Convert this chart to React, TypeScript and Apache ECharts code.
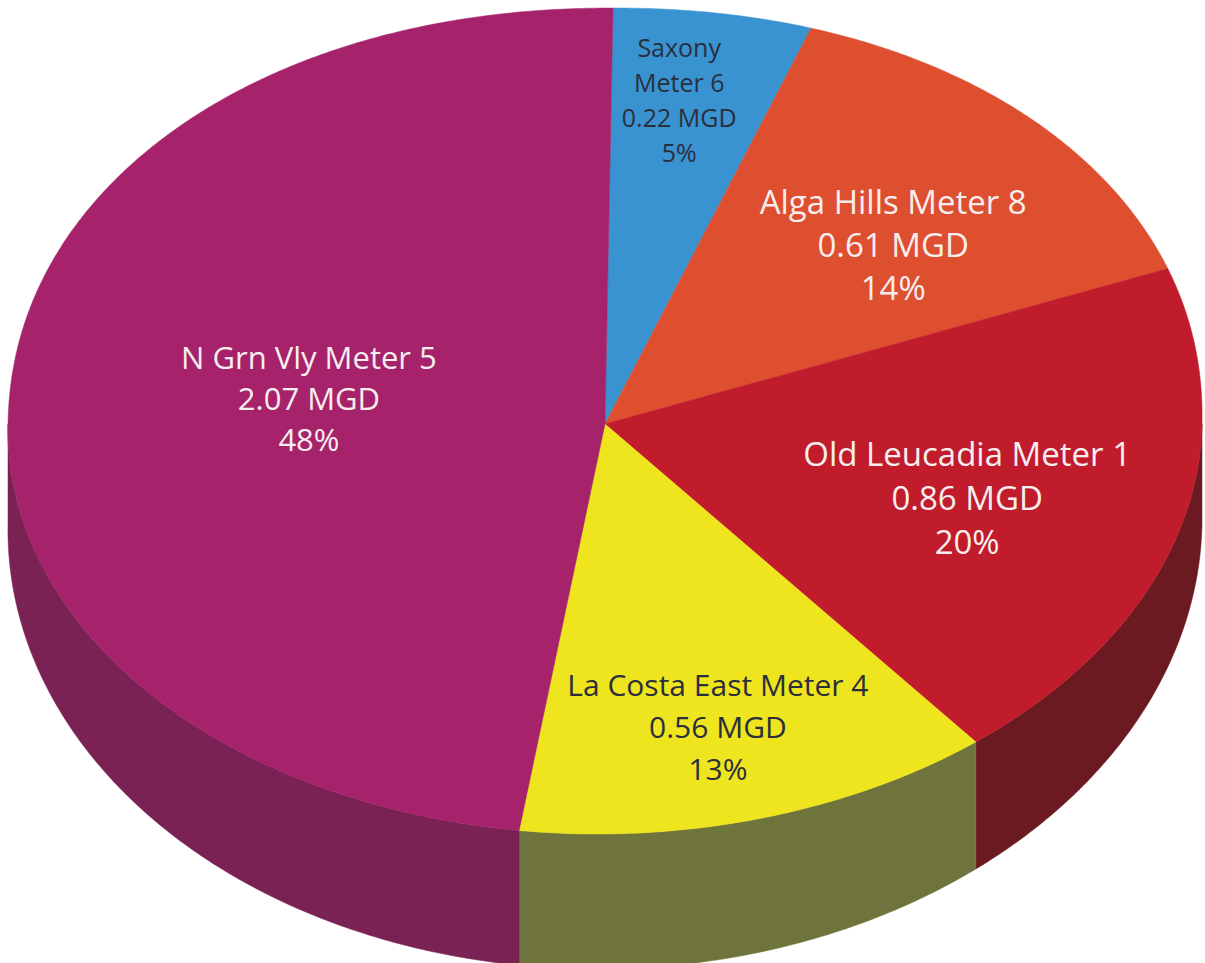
import React, { useEffect, useRef } from 'react';
import * as echarts from 'echarts';

// ---- data ----
const NAMES = ['Saxony\nMeter 6', 'Alga Hills Meter 8', 'Old Leucadia Meter 1', 'La Costa East Meter 4', 'N Grn Vly Meter 5'];
const VALUES = [0.22, 0.61, 0.86, 0.56, 2.07];
const UNIT = 'MGD';

// ---- style ----
const TOP_COLORS = ['#3a93d1', '#de4f30', '#c11c2c', '#efe51e', '#a6226a'];
const SIDE_COLORS = ['#2a6a98', '#9a3520', '#6a1a20', '#6f743c', '#7a2254'];
const TEXT_COLORS = ['#2b2f3c', '#f6eeee', '#f6eeee', '#2b2f3c', '#f6eeee'];
const FONT_SIZES = [25, 33, 33, 30, 31];
const LINE_HEIGHTS = [35, 43, 44, 42, 41];
const LABEL_FX = [0.78, 0.698, 0.628, 0.693, 0.497];
const LABEL_FY = [0.789, 0.596, 0.688, 0.768, 0.956];

const CX = 605;
const CY = 424;
const RX = 597;
const RY_UP = 416;
const RY_DOWN = 410;
const SKEW = 8;

function depthAt(tDeg: number): number {
  const c = Math.cos((tDeg * Math.PI) / 180);
  return 100 + 35 * Math.max(0, -c);
}

function pt(tDeg: number, withDepth: boolean): number[] {
  const t = (tDeg * Math.PI) / 180;
  const s = Math.sin(t);
  const c = Math.cos(t);
  const e = c > 0 ? 2 / 2.1 : 1;
  const sx = Math.sign(s) * Math.pow(Math.abs(s), e);
  const cyv = Math.sign(c) * Math.pow(Math.abs(c), e);
  const ry = c > 0 ? RY_UP : RY_DOWN;
  const dy = withDepth ? depthAt(tDeg) : 0;
  return [CX + RX * sx + SKEW * cyv, CY - ry * cyv + dy];
}

function arc(a: number, b: number, withDepth: boolean): number[][] {
  const pts: number[][] = [];
  const step = 0.5;
  for (let t = a; t < b; t += step) pts.push(pt(t, withDepth));
  pts.push(pt(b, withDepth));
  return pts;
}

export default function App() {
  const ref = useRef<HTMLDivElement>(null);
  useEffect(() => {
    document.body.style.margin = '0';
    if (!ref.current) return;
    const chart = echarts.init(ref.current, null, { renderer: 'svg' });
    const total = VALUES.reduce((a, b) => a + b, 0);
    const starts: number[] = [];
    const ends: number[] = [];
    let acc = 0;
    VALUES.forEach((v) => {
      starts.push((acc / total) * 360);
      acc += v;
      ends.push((acc / total) * 360);
    });

    const data = VALUES.map((v, i) => ({ name: NAMES[i], value: [i, v] }));

    const sideRender = (params: any) => {
      const i = params.dataIndex;
      const a = Math.max(starts[i], 90);
      const b = Math.min(ends[i], 270);
      if (b <= a) return { type: 'group', children: [] };
      const top = arc(a, b, false);
      const bottom = arc(a, b, true).reverse();
      return {
        type: 'polygon',
        shape: { points: top.concat(bottom) },
        style: { fill: SIDE_COLORS[i], stroke: SIDE_COLORS[i], lineWidth: 0.5 },
      };
    };

    const topRender = (params: any) => {
      const i = params.dataIndex;
      const pts = [[CX, CY]].concat(arc(starts[i], ends[i], false));
      const mid = (((starts[i] + ends[i]) / 2) * Math.PI) / 180;
      const c = Math.cos(mid);
      const lx = CX + RX * Math.sin(mid) * LABEL_FX[i];
      const ly = CY - (c > 0 ? RY_UP : RY_DOWN) * c * LABEL_FY[i];
      const pct = Math.round((VALUES[i] / total) * 100);
      const text = `${NAMES[i]}\n${VALUES[i].toFixed(2)} ${UNIT}\n${pct}%`;
      return {
        type: 'group',
        children: [
          {
            type: 'polygon',
            shape: { points: pts },
            style: { fill: TOP_COLORS[i], stroke: TOP_COLORS[i], lineWidth: 0.5 },
          },
          {
            type: 'text',
            x: lx,
            y: ly,
            z2: 10,
            style: {
              text,
              fill: TEXT_COLORS[i],
              fontSize: FONT_SIZES[i],
              fontFamily: '"Open Sans", Lato, sans-serif',
              lineHeight: LINE_HEIGHTS[i],
              align: 'center',
              verticalAlign: 'middle',
            },
          },
        ],
      };
    };

    chart.setOption({
      animation: false,
      backgroundColor: '#ffffff',
      series: [
        {
          type: 'custom',
          coordinateSystem: 'none',
          silent: true,
          z: 1,
          renderItem: sideRender,
          data,
        },
        {
          type: 'custom',
          coordinateSystem: 'none',
          silent: true,
          z: 2,
          renderItem: topRender,
          data,
        },
      ],
    });
    return () => chart.dispose();
  }, []);
  return <div ref={ref} style={{ width: 1205, height: 963 }} />;
}
